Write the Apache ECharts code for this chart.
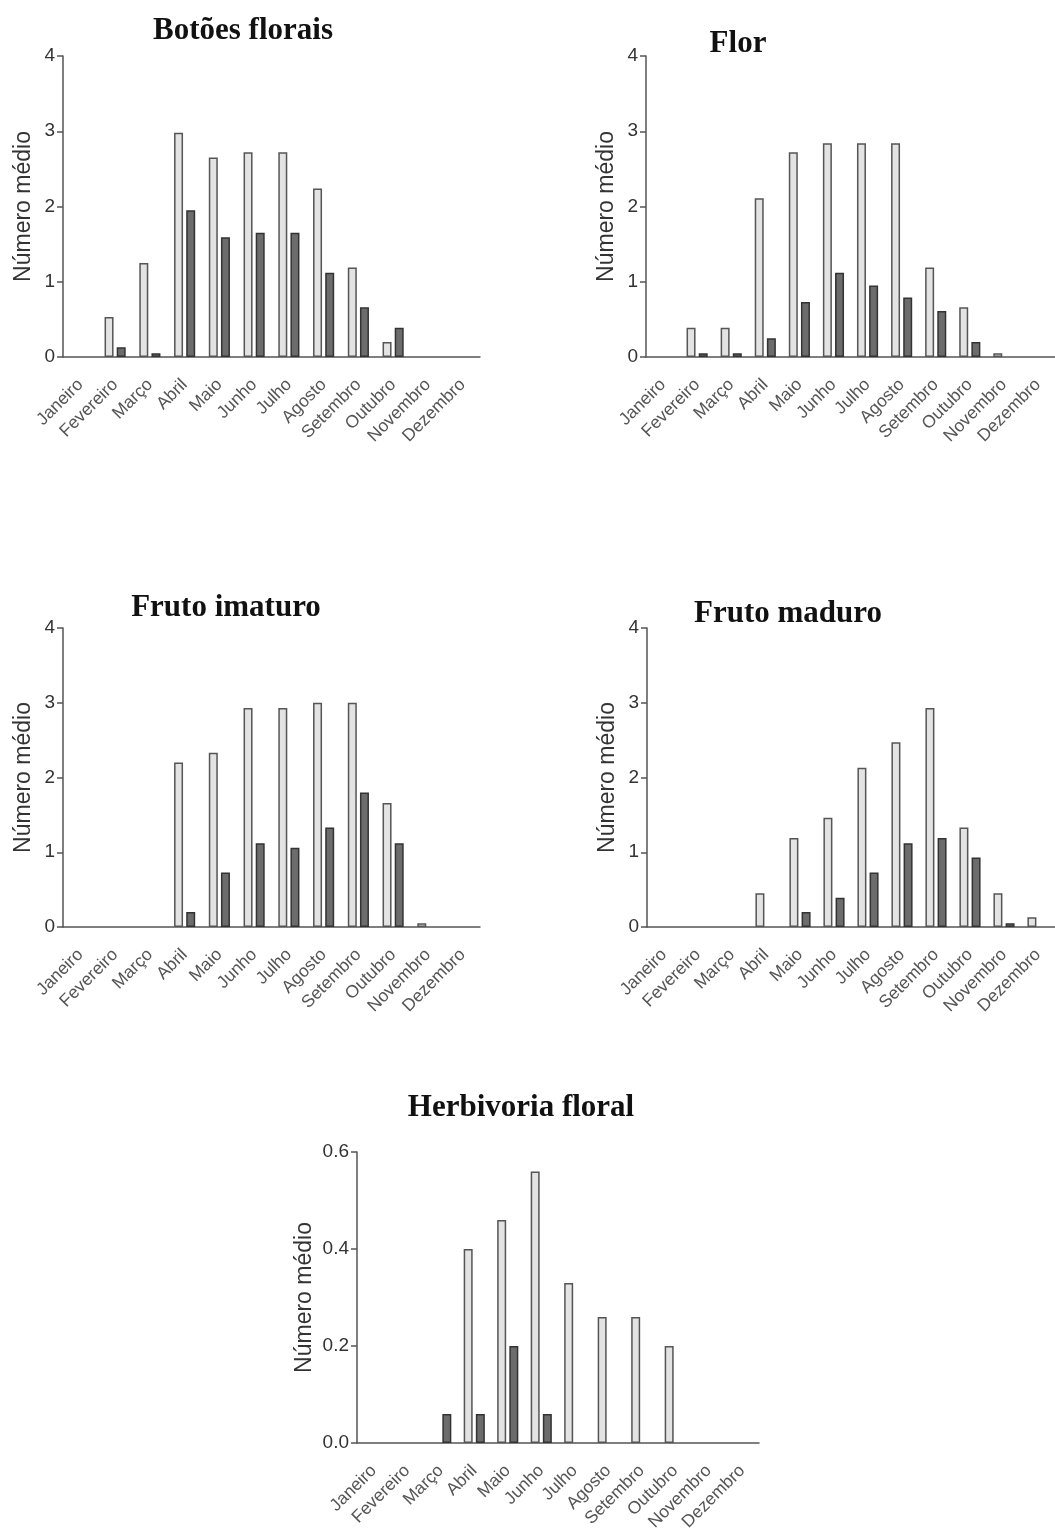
<!DOCTYPE html>
<html>
<head>
<meta charset="utf-8">
<script src="https://cdn.jsdelivr.net/npm/echarts@6/dist/echarts.min.js"></script>
<style>
html,body{margin:0;padding:0;background:#fff;}
#chart{width:1055px;height:1535px;}
</style>
</head>
<body>
<div id="chart"></div>
<script>
var months = ['Janeiro','Fevereiro','Março','Abril','Maio','Junho','Julho','Agosto','Setembro','Outubro','Novembro','Dezembro'];
var panelTitles = ['Botões florais','Flor','Fruto imaturo','Fruto maduro','Herbivoria floral'];
var yName = 'Número médio';

var botoesLight = [0, 0.53, 1.25, 2.98, 2.65, 2.72, 2.72, 2.24, 1.19, 0.20, 0, 0];
var botoesDark  = [0, 0.13, 0.05, 1.95, 1.59, 1.65, 1.65, 1.12, 0.66, 0.39, 0, 0];
var florLight   = [0, 0.39, 0.39, 2.11, 2.72, 2.84, 2.84, 2.84, 1.19, 0.66, 0.05, 0];
var florDark    = [0, 0.05, 0.05, 0.25, 0.73, 1.12, 0.95, 0.79, 0.61, 0.20, 0, 0];
var imaturoLight= [0, 0, 0, 2.20, 2.33, 2.93, 2.93, 3.00, 3.00, 1.66, 0.05, 0];
var imaturoDark = [0, 0, 0, 0.20, 0.73, 1.12, 1.06, 1.33, 1.80, 1.12, 0, 0];
var maduroLight = [0, 0, 0, 0.45, 1.19, 1.46, 2.13, 2.47, 2.93, 1.33, 0.45, 0.13];
var maduroDark  = [0, 0, 0, 0, 0.20, 0.39, 0.73, 1.12, 1.19, 0.93, 0.05, 0];
var herbLight   = [0, 0, 0, 0.40, 0.46, 0.56, 0.33, 0.26, 0.26, 0.20, 0, 0];
var herbDark    = [0, 0, 0.06, 0.06, 0.20, 0.06, 0, 0, 0, 0, 0, 0];

var yTicksMain = [0, 1, 2, 3, 4];
var yTicksHerb = [0, 0.2, 0.4, 0.6];

var panels = [
  {title: panelTitles[0], light: botoesLight, dark: botoesDark, ticks: yTicksMain, grid:{left:63, top:56, width:417, height:301}, tx:238, ty:10, gap:28},
  {title: panelTitles[1], light: florLight, dark: florDark, ticks: yTicksMain, grid:{left:646, top:56, width:414, height:301}, tx:733, ty:23, gap:28},
  {title: panelTitles[2], light: imaturoLight, dark: imaturoDark, ticks: yTicksMain, grid:{left:63, top:628, width:417, height:299}, tx:221, ty:587, gap:28},
  {title: panelTitles[3], light: maduroLight, dark: maduroDark, ticks: yTicksMain, grid:{left:647, top:628, width:414, height:299}, tx:783, ty:593, gap:28},
  {title: panelTitles[4], light: herbLight, dark: herbDark, ticks: yTicksHerb, grid:{left:357, top:1152, width:402, height:291}, tx:516, ty:1087, gap:41, dec:1}
];

function hideZero(arr){ return arr.map(function(v){ return v === 0 ? null : v; }); }

var axisColor = '#555';
var sans = '"Liberation Sans", Arial, sans-serif';
var option = {
  backgroundColor: '#fff',
  animation: false,
  title: [], grid: [], xAxis: [], yAxis: [], series: []
};
panels.forEach(function(p, i){
  option.title.push({
    text: p.title, left: p.tx, top: p.ty, textAlign: 'center',
    textStyle: {fontFamily: '"Liberation Serif", "Times New Roman", serif', fontWeight: 'bold', fontSize: 31, color: '#111'}
  });
  option.grid.push({left: p.grid.left, top: p.grid.top, width: p.grid.width, height: p.grid.height, containLabel: false});
  option.xAxis.push({
    type: 'category', gridIndex: i, data: months,
    axisLine: {lineStyle: {color: axisColor, width: 1.5}},
    axisTick: {alignWithLabel: true, length: 7, lineStyle: {color: axisColor, width: 1.5}},
    axisLabel: {interval: 0, rotate: 45, margin: 25, fontFamily: sans, fontSize: 17.5, color: '#555'}
  });
  var tmax = p.ticks[p.ticks.length-1];
  var tint = p.ticks[1] - p.ticks[0];
  option.yAxis.push({
    type: 'value', gridIndex: i, min: p.ticks[0], max: tmax, interval: tint,
    name: yName, nameLocation: 'middle', nameGap: p.gap,
    nameTextStyle: {fontFamily: sans, fontSize: 23, color: '#333'},
    axisLine: {show: true, lineStyle: {color: axisColor, width: 1.5}},
    axisTick: {show: true, length: 6, lineStyle: {color: axisColor, width: 1.5}},
    splitLine: {show: false},
    axisLabel: {margin: 8, fontFamily: sans, fontSize: 19, color: '#333',
      formatter: function(v){ return p.dec ? v.toFixed(p.dec) : String(v); }}
  });
  option.series.push({
    type: 'bar', xAxisIndex: i, yAxisIndex: i, data: hideZero(p.light),
    barWidth: 9, barGap: '35%',
    itemStyle: {color: '#e3e3e3', borderColor: '#555', borderWidth: 1.5}
  });
  option.series.push({
    type: 'bar', xAxisIndex: i, yAxisIndex: i, data: hideZero(p.dark),
    barWidth: 9, barGap: '35%',
    itemStyle: {color: '#6c6c6c', borderColor: '#333', borderWidth: 1.5}
  });
});
var chart = echarts.init(document.getElementById('chart'), null, {renderer: 'canvas'});
chart.setOption(option);
</script>
</body>
</html>
